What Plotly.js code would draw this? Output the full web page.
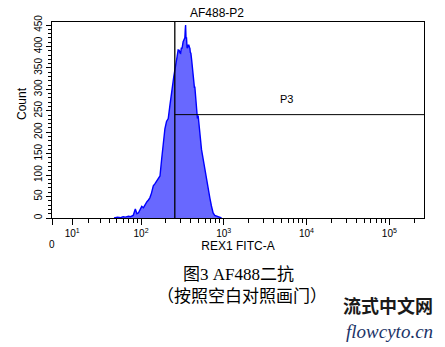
<!DOCTYPE html>
<html>
<head>
<meta charset="utf-8">
<script src="https://cdn.plot.ly/plotly-3.0.1.min.js"></script>
<style>
html,body{margin:0;padding:0;background:#fff;}
#chart{width:445px;height:347px;}
</style>
</head>
<body>
<div id="chart"></div>
<script>
// Histogram: fluorescence intensity (REX1 FITC-A) and event counts
const intensity = [46,51,56,60,64,70,74,80,85,89,93,97,102,107,112,118,123,128,134,141,148,155,162,170,178,186,195,204,214,224,235,243,250,257,265,274,282,290,296,302,308,315,324,332,340,344,347,351,356,361,366,373,380,386,391,396,402,410,421,428,436,443,449,460,471,482,492,504,516,540,565,590,621,650,681,712,746,780,820,880,943];
const counts =    [0,2,1,3,2,4,3,6,21,10,12,20,27,24,32,38,42,47,58,75,80,87,92,98,137,176,208,225,232,262,296,310,330,344,365,376,392,391,385,384,396,396,411,418,420,440,450,420,420,398,396,403,403,398,396,386,384,370,345,322,321,305,305,275,267,232,239,215,185,160,138,115,94,70,47,28,12,6,4,2,0];

// Axis ticks
const majorTickValues = [0, 10, 100, 1000, 10000, 100000];
const majorTickLabels = ['', '10<sup>1</sup>', '10<sup>2</sup>', '10<sup>3</sup>', '10<sup>4</sup>', '10<sup>5</sup>'];
const minorTickValues = [20,30,40,50,60,70,80,90,200,300,400,500,600,700,800,900,2000,3000,4000,5000,6000,7000,8000,9000,20000,30000,40000,50000,60000,70000,80000,90000,200000];
const xMax = 262144;
const yTickValues = [0,50,100,150,200,250,300,350,400,450];
const yMax = 457;

// Gates
const gateP3Low = 257;
const gateP3Height = 241;

// Texts
const plotTitle = 'AF488-P2';
const xTitle = 'REX1 FITC-A';
const yTitle = 'Count';
const gateLabel = 'P3';
const caption1 = '图3 AF488二抗';
const caption2 = '（按照空白对照画门）';
const mark1 = '流式中文网';
const mark2 = 'flowcyto.cn';

// Biexponential-like display transform (linear near zero, log above)
const C = 8.47;
function biex(v){ return Math.log10(C) + Math.asinh(v/(2*C))/Math.LN10; }

const sans = 'Liberation Sans, Arial, sans-serif';
const serifCJK = 'Liberation Serif, Noto Sans CJK SC, serif';

const trace = {
  type: 'scatter',
  mode: 'lines',
  x: intensity.map(biex),
  y: counts,
  fill: 'tozeroy',
  fillcolor: 'rgb(104,104,255)',
  line: {color: 'rgb(0,0,255)', width: 1.4},
  hoverinfo: 'skip'
};

function ann(text, x, y, font, extra){
  return Object.assign({text: text, xref: 'paper', yref: 'paper', x: (x-52)/372, y: (218-y)/196,
    xanchor: 'center', yanchor: 'middle', showarrow: false, font: font}, extra || {});
}

const layout = {
  width: 445, height: 347,
  margin: {l: 52, r: 21, t: 22, b: 129},
  paper_bgcolor: '#fff', plot_bgcolor: '#fff',
  showlegend: false,
  title: {text: plotTitle, font: {family: sans, size: 12, color: '#000'},
          x: 0.4435, xref: 'paper', xanchor: 'center', y: 1 - 13/347, yref: 'container', yanchor: 'middle'},
  xaxis: {
    type: 'linear',
    range: [biex(0), biex(xMax)],
    tickmode: 'array',
    tickvals: majorTickValues.map(biex),
    ticktext: majorTickLabels,
    ticks: 'outside', ticklen: 6, tickwidth: 1, tickcolor: '#000',
    minor: {tickmode: 'array', tickvals: minorTickValues.map(biex), ticks: 'outside', ticklen: 4, tickwidth: 1, tickcolor: '#000', showgrid: false},
    showline: true, linecolor: '#000', linewidth: 1, mirror: true,
    showgrid: false, zeroline: false,
    tickfont: {family: sans, size: 10, color: '#000'},
    title: {text: xTitle, font: {family: sans, size: 12, color: '#000'}, standoff: 3},
    fixedrange: true
  },
  yaxis: {
    range: [0, yMax],
    tickmode: 'array',
    tickvals: yTickValues,
    ticktext: yTickValues.map(String),
    tickangle: -90,
    ticks: 'outside', ticklen: 5, tickwidth: 1, tickcolor: '#000',
    minor: {dtick: 10, tick0: 0, ticks: 'outside', ticklen: 3, tickwidth: 1, tickcolor: '#000', showgrid: false},
    showline: true, linecolor: '#000', linewidth: 1, mirror: true,
    showgrid: false, zeroline: false,
    tickfont: {family: 'Liberation Sans Narrow, Liberation Sans, sans-serif', size: 10, color: '#000'},
    fixedrange: true
  },
  shapes: [
    {type: 'line', xref: 'x', yref: 'paper', x0: biex(gateP3Low), x1: biex(gateP3Low), y0: 0, y1: 1,
     line: {color: '#000', width: 1.3}},
    {type: 'line', xref: 'x', yref: 'y', x0: biex(gateP3Low), x1: biex(xMax), y0: gateP3Height, y1: gateP3Height,
     line: {color: '#000', width: 1}}
  ],
  annotations: [
    {text: gateLabel, xref: 'paper', yref: 'y', x: (286-52)/372, y: gateP3Height, yshift: 16, showarrow: false,
     xanchor: 'center', yanchor: 'middle', font: {family: sans, size: 11, color: '#000'}},
    {text: '0', xref: 'x', yref: 'paper', x: biex(0), y: (218-244)/196, showarrow: false,
     xanchor: 'center', yanchor: 'middle', font: {family: sans, size: 10, color: '#000'}},
    ann(yTitle, 22, 104, {family: sans, size: 12, color: '#000'}, {textangle: -90}),
    ann(caption1, 238, 274, {family: serifCJK, size: 17, color: '#000'}),
    ann(caption2, 242, 296, {family: serifCJK, size: 17, color: '#000'}),
    ann('<b>' + mark1 + '</b>', 388, 305, {family: 'Noto Sans CJK SC, sans-serif', size: 18, color: '#1a1a1a'}),
    ann('<i>' + mark2 + '</i>', 389, 331, {family: 'Liberation Serif, serif', size: 19, color: '#1c3468'})
  ]
};

Plotly.newPlot('chart', [trace], layout, {displayModeBar: false, staticPlot: true});
</script>
</body>
</html>
